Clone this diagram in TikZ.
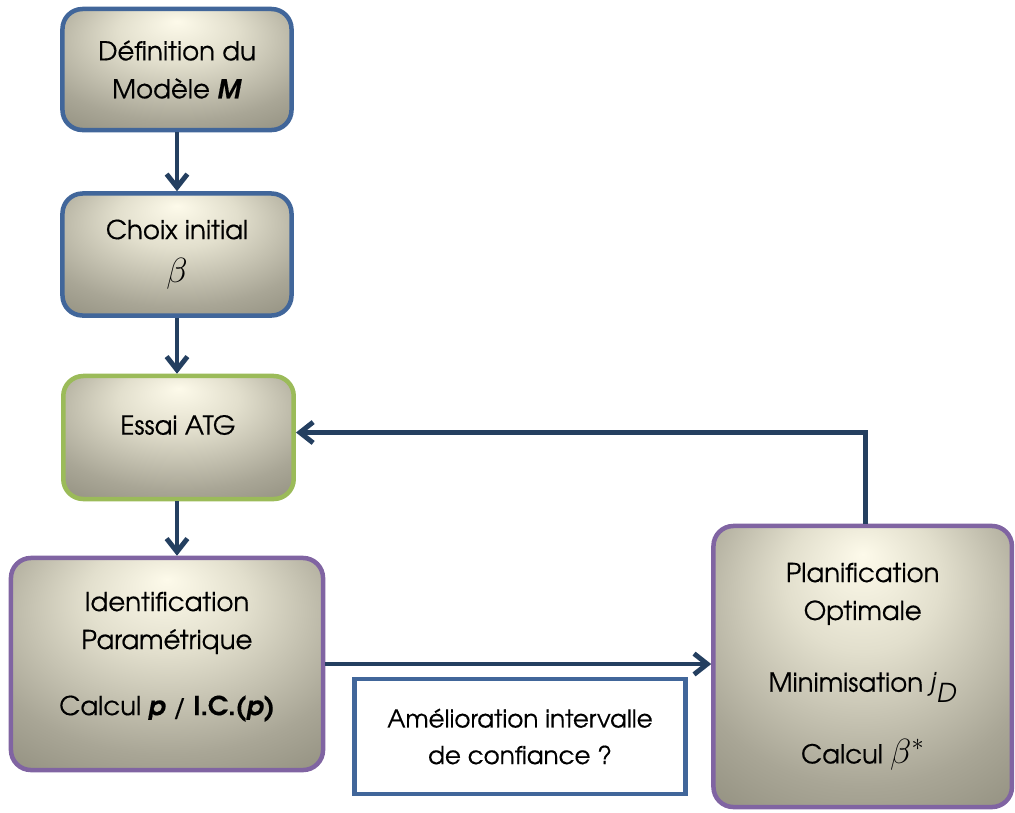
\documentclass[tikz,border=0pt]{standalone}
\usepackage{fontspec}
\setmainfont{TeX Gyre Adventor}[UprightFeatures={FakeBold=0.4}, BoldItalicFeatures={FakeBold=0.4}, BoldFeatures={FakeBold=0.4}]
\usetikzlibrary{arrows.meta,calc}
\definecolor{boxblue}{HTML}{41669A}
\definecolor{boxgreen}{HTML}{9BBB59}
\definecolor{boxpurple}{HTML}{8064A2}
\definecolor{arrowblue}{HTML}{243F60}
\definecolor{shadelight}{HTML}{FDFAEA}
\definecolor{shadehigh}{HTML}{E2DFCD}
\definecolor{shademid}{HTML}{A9A696}
\definecolor{shadedark}{HTML}{7A7868}
\pgfdeclareradialshading{boxshade}{\pgfpoint{0bp}{20bp}}{color(0bp)=(shadelight); color(13bp)=(shadehigh); color(31bp)=(shademid); color(52bp)=(shadedark); color(60bp)=(shadedark)}
\begin{document}
\begin{tikzpicture}[x=0.025cm, y=-0.025cm,
    font=\fontsize{18.5}{27}\selectfont,
    box/.style={draw, line width=3.2pt, rounded corners=0.5cm, shading=boxshade, align=center, inner sep=0pt},
    flow/.style={draw=arrowblue, line width=3.5pt, -{Straight Barb[length=0.33cm, width=0.52cm]}}]
    \useasboundingbox (0,0) rectangle (1015,812);
    \node[box, draw=boxblue, minimum width=5.725cm, minimum height=3.025cm] (modele) at (177,69.5) {D\'efinition du\\Mod\`ele \textbf{\textit{M}}};
    \node[box, draw=boxblue, minimum width=5.725cm, minimum height=3.05cm] (choix) at (177,254.5) {Choix initial\\[4pt]{\fontsize{24}{24}\selectfont$\beta$}};
    \node[box, draw=boxgreen, minimum width=5.76cm, minimum height=3.075cm] (essai) at (178.5,437.5) {};
    \node (essaitxt) at (178,425) {Essai ATG};
    \node[box, draw=boxpurple, minimum width=7.8cm, minimum height=5.3cm] (ident) at (167,664) {Identification\\Param\'etrique\\[20pt]Calcul \textbf{\textit{p}} / \textbf{I.C.(\textit{p})}\\[-12pt]\mbox{}};
    \node[box, draw=boxpurple, minimum width=7.46cm, minimum height=7.025cm] (plan) at (862.7,666.5) {Planification\\Optimale\\[24pt]Minimisation \textit{j}$_{\textit{D}}$\\[24pt]Calcul {\fontsize{24}{24}\selectfont$\beta^{*}$}};
    \node[draw=boxblue, line width=3.4pt, fill=white, minimum width=8.26cm, minimum height=2.875cm, align=center, font=\fontsize{17.5}{26}\selectfont] (question) at (520,736.5) {Am\'elioration intervalle\\de confiance ?};
    % liaisons
    \draw[flow] (modele.south) -- (choix.north);
    \draw[flow] (choix.south) -- (choix.south |- essai.north);
    \draw[flow] (essai.south -| choix.south) -- (choix.south |- ident.north);
    \draw[flow] (ident.east) -- (ident.east -| plan.west);
    \coordinate (retour) at (865.5,432.5);
    \draw[flow] (plan.north -| retour) -- (retour) -- (retour -| essai.east);
\end{tikzpicture}
\end{document}
